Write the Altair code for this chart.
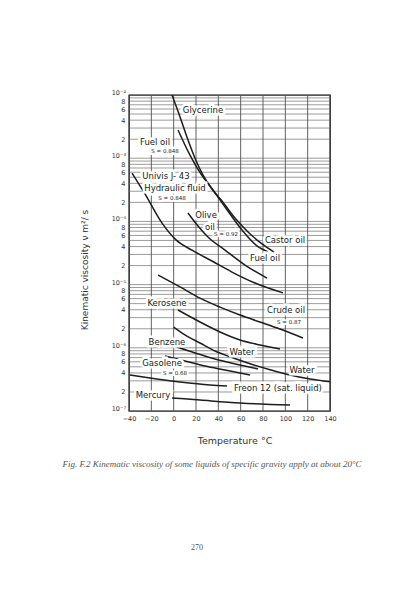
import altair as alt
import pandas as pd

# ---- curves (temperature degC, kinematic viscosity m^2/s) ----
glycerine_T = [-1.5, 5.7, 11.9, 19.1, 26.3, 34.3, 43.3, 54.9, 66.6, 79.1, 90.7]
glycerine_v = [1.0e-2, 4.5e-3, 2.16e-3, 1.0e-3, 5.4e-4, 3.26e-4, 2.1e-4, 1.13e-4, 6.8e-5, 4.4e-5, 3.2e-5]

castor_T = [3.9, 14.6, 24.5, 35.2, 46.0, 61.2, 74.6, 84.5]
castor_v = [2.8e-3, 1.12e-3, 5.6e-4, 3.14e-4, 1.69e-4, 7.3e-5, 4.1e-5, 3.3e-5]

univis_T = [-37.3, -25.7, -10.4, 2.1, 16.4, 34.3, 52.2, 72.8, 97.9]
univis_v = [5.8e-4, 2.72e-4, 9.4e-5, 5.1e-5, 3.5e-5, 2.36e-5, 1.58e-5, 1.06e-5, 7.4e-6]

olive_T = [12.8, 21.8, 30.7, 46.0, 63.9, 83.6]
olive_v = [1.36e-4, 8.45e-5, 5.66e-5, 3.52e-5, 2.04e-5, 1.27e-5]

crude_T = [-14.0, 5.7, 23.6, 41.5, 59.4, 77.3, 95.2, 115.8]
crude_v = [1.42e-5, 9.2e-6, 6.1e-6, 4.4e-6, 3.3e-6, 2.56e-6, 1.98e-6, 1.43e-6]

kerosene_T = [3.9, 23.6, 41.5, 59.4, 77.3, 95.2]
kerosene_v = [3.96e-6, 2.56e-6, 1.78e-6, 1.33e-6, 1.11e-6, 9.6e-7]

water_T = [0, 10.1, 23.6, 37.0, 50.4, 68.4, 86.3, 104.2, 122.1, 140]
water_v = [2.13e-6, 1.6e-6, 1.19e-6, 8.9e-7, 7.2e-7, 5.6e-7, 4.5e-7, 3.7e-7, 3.2e-7, 2.9e-7]

benzene_T = [3.0, 19.1, 37.0, 59.4, 75.5]
benzene_v = [1.03e-6, 8.3e-7, 6.65e-7, 5.35e-7, 4.62e-7]

gasolene_T = [-7.8, 10.1, 28.1, 46.0, 68.4]
gasolene_v = [7.4e-7, 6.18e-7, 5.15e-7, 4.46e-7, 3.72e-7]

freon_T = [-39.1, -21.2, 5.7, 32.5, 47.8]
freon_v = [3.72e-7, 3.33e-7, 2.88e-7, 2.58e-7, 2.49e-7]

mercury_T = [-1.5, 23.6, 59.4, 104.2]
mercury_v = [1.61e-7, 1.49e-7, 1.34e-7, 1.24e-7]

# ---- curve labels ----
label_text = ["Glycerine", "Fuel oil", "Univis J- 43", "Hydraulic fluid", "Olive", "oil",
              "Castor oil", "Fuel oil", "Kerosene", "Crude oil", "Benzene", "Water",
              "Gasolene", "Water", "Mercury", "Freon 12 (sat. liquid)"]
label_T = [26.3, -16.7, -6.9, 1.2, 29.0, 32.5, 99.7, 81.8, -6.0, 100.6, -6.0, 61.2,
           -10.4, 114.9, -18.5, 93.4]
label_v = [5.8e-3, 1.8e-3, 5.2e-4, 3.37e-4, 1.26e-4, 8.15e-5, 5.1e-5, 2.64e-5, 5.1e-6,
           3.96e-6, 1.24e-6, 8.6e-7, 5.74e-7, 4.46e-7, 1.79e-7, 2.31e-7]

small_text = ["S = 0.848", "S = 0.848", "S = 0.92", "S = 0.87", "S = 0.68"]
small_T = [-7.8, -1.5, 46.9, 103.3, 1.2]
small_v = [1.3e-3, 2.34e-4, 6.3e-5, 2.56e-6, 4.0e-7]

# ---- axes ----
x_ticks = [-40, -20, 0, 20, 40, 60, 80, 100, 120, 140]
decades = [1e-7, 1e-6, 1e-5, 1e-4, 1e-3, 1e-2]
decade_text = ["10\u207b\u2077", "10\u207b\u2076", "10\u207b\u2075", "10\u207b\u2074",
               "10\u207b\u00b3", "10\u207b\u00b2"]
y_minor_ticks = [m * 10.0 ** e for e in range(-7, -2) for m in (2, 4, 6, 8)]
y_grid = [m * 10.0 ** e for e in range(-7, -2) for m in range(1, 10)] + [1e-2]

series = [
    ("Glycerine", glycerine_T, glycerine_v), ("Castor oil", castor_T, castor_v),
    ("Univis", univis_T, univis_v), ("Olive oil", olive_T, olive_v),
    ("Crude oil", crude_T, crude_v), ("Kerosene", kerosene_T, kerosene_v),
    ("Water", water_T, water_v), ("Benzene", benzene_T, benzene_v),
    ("Gasolene", gasolene_T, gasolene_v), ("Freon", freon_T, freon_v),
    ("Mercury", mercury_T, mercury_v),
]
rows = []
for name, ts, vs in series:
    for i, (t, v) in enumerate(zip(ts, vs)):
        rows.append({"curve": name, "T": t, "v": v, "order": i})
df = pd.DataFrame(rows)

lab_df = pd.DataFrame({"T": label_T, "v": label_v, "text": label_text})
small_df = pd.DataFrame({"T": small_T, "v": small_v, "text": small_text})
dec_df = pd.DataFrame({"v": decades, "text": decade_text})

xscale = alt.Scale(domain=[-40, 140], nice=False, zero=False)
yscale = alt.Scale(type="log", domain=[1e-7, 1e-2], nice=False)

xaxis = alt.Axis(values=x_ticks, title=None, grid=False, ticks=False, domain=False,
                 labelFont="DejaVu Sans", labelFontSize=6.5, labelColor="#333",
                 labelPadding=4, labelFlush=False, labelOverlap=False)
yaxis = alt.Axis(values=y_minor_ticks, title=None, grid=False, ticks=False, domain=False,
                 labelExpr="format(datum.value / pow(10, floor(log(datum.value)/LN10 + 0.001)), '.0f')",
                 labelFont="DejaVu Sans", labelFontSize=6.5,
                 labelColor="#333", labelPadding=4, labelFlush=False, labelOverlap=False)

X = alt.X("T:Q", scale=xscale, axis=xaxis)
Y = alt.Y("v:Q", scale=yscale, axis=yaxis)

hgrid = alt.Chart(pd.DataFrame({"v": y_grid})).mark_rule(
    color="#707070", strokeWidth=0.7).encode(y=Y)
vgrid = alt.Chart(pd.DataFrame({"T": x_ticks})).mark_rule(
    color="#505050", strokeWidth=0.9).encode(x=X)

lines = alt.Chart(df).mark_line(color="#1e1e1e", strokeWidth=1.5, interpolate="monotone").encode(
    x=X, y=Y, detail="curve:N", order="order:Q")

halo = alt.Chart(lab_df).mark_text(font="DejaVu Sans", fontSize=8.5, stroke="white",
                                   strokeWidth=5, color="white").encode(x=X, y=Y, text="text:N")
labels = alt.Chart(lab_df).mark_text(font="DejaVu Sans", fontSize=8.5, color="#1a1a1a").encode(
    x=X, y=Y, text="text:N")
shalo = alt.Chart(small_df).mark_text(font="DejaVu Sans", fontSize=5.5, stroke="white",
                                      strokeWidth=4, color="white").encode(x=X, y=Y, text="text:N")
slabels = alt.Chart(small_df).mark_text(font="DejaVu Sans", fontSize=5.5, color="#1a1a1a").encode(
    x=X, y=Y, text="text:N")

dec_labels = alt.Chart(dec_df).mark_text(font="DejaVu Sans", fontSize=6.5, color="#333",
                                         align="right", baseline="middle", dy=-2).encode(
    x=alt.value(-3), y=Y, text="text:N")

one = pd.DataFrame({"a": [0]})
ytitle = alt.Chart(one).mark_text(
    text="Kinematic   viscosity    \u03bd         m\u00b2/ s", angle=270, font="DejaVu Sans",
    fontSize=9, color="#333").encode(x=alt.value(-44), y=alt.value(175))
xtitle = alt.Chart(one).mark_text(
    text="Temperature \u00b0C", font="DejaVu Sans", fontSize=9.5, color="#333").encode(
    x=alt.value(106), y=alt.value(346))
caption = alt.Chart(one).mark_text(
    text="Fig. F.2  Kinematic viscosity of some liquids of specific gravity apply at about 20\u00b0C",
    font="Liberation Serif", fontStyle="italic", fontSize=9, color="#555555").encode(
    x=alt.value(83), y=alt.value(369))
pagenum = alt.Chart(one).mark_text(
    text="270", font="Liberation Serif", fontSize=8, color="#555555").encode(
    x=alt.value(68), y=alt.value(453))

chart = alt.layer(hgrid, vgrid, lines, halo, labels, shalo, slabels, dec_labels,
                  ytitle, xtitle, caption, pagenum).properties(
    width=201, height=316,
    autosize=alt.AutoSizeParams(type="none"),
    padding={"left": 121, "top": 87, "right": 50, "bottom": 170},
    background="white",
).configure_view(stroke="#111", strokeWidth=1.3)

chart.save("out.html", embed_options={"renderer": "svg", "actions": False})
